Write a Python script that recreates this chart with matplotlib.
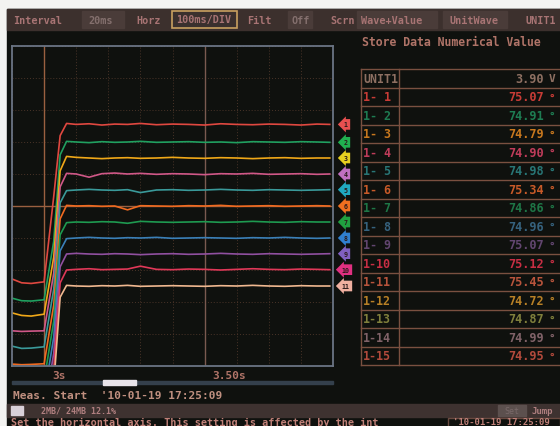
import numpy as np
import matplotlib.pyplot as plt
import matplotlib.transforms as mtransforms
from matplotlib.patches import Rectangle

# ---- data (y in screen divisions, 0..10) ----
t = [2.90, 2.93, 2.96, 3.00, 3.03, 3.05, 3.07, 3.10, 3.14, 3.18, 3.22, 3.26, 3.30,
     3.35, 3.40, 3.45, 3.50, 3.55, 3.60, 3.65, 3.70, 3.75, 3.80, 3.85, 3.89]

ch1 = [2.72, 2.60, 2.58, 2.63, 5.30, 7.20, 7.58, 7.55, 7.57, 7.53, 7.56, 7.55, 7.58,
       7.54, 7.56, 7.55, 7.53, 7.57, 7.55, 7.54, 7.56, 7.55, 7.53, 7.56, 7.55]
ch2 = [2.12, 2.04, 2.03, 2.07, 3.90, 6.60, 7.02, 7.00, 6.98, 7.01, 6.99, 7.00, 7.02,
       6.99, 7.00, 7.01, 6.99, 7.00, 6.98, 7.01, 7.00, 6.99, 7.01, 7.00, 6.99]
ch3 = [1.66, 1.58, 1.56, 1.62, 3.40, 6.10, 6.55, 6.52, 6.50, 6.48, 6.50, 6.51, 6.49,
       6.50, 6.52, 6.50, 6.49, 6.51, 6.50, 6.48, 6.50, 6.51, 6.49, 6.50, 6.50]
ch4 = [1.10, 1.08, 1.09, 1.10, 2.90, 5.60, 6.02, 6.00, 5.90, 6.01, 6.03, 6.00, 6.02,
       5.99, 6.01, 6.00, 5.98, 6.01, 6.00, 6.02, 5.99, 6.00, 6.01, 5.99, 6.00]
ch5 = [0.62, 0.55, 0.56, 0.60, 2.40, 5.10, 5.48, 5.50, 5.52, 5.50, 5.49, 5.51, 5.42,
       5.50, 5.51, 5.49, 5.50, 5.52, 5.50, 5.49, 5.51, 5.50, 5.49, 5.50, 5.51]
ch6 = [0.06, 0.04, 0.05, 0.07, 1.90, 4.60, 5.02, 5.00, 5.01, 4.99, 5.00, 4.88, 5.01,
       5.00, 4.99, 5.01, 5.00, 5.02, 4.99, 5.00, 5.01, 4.99, 5.00, 5.01, 5.00]
ch7 = [-0.45, -0.50, -0.52, -0.46, 1.40, 4.10, 4.48, 4.50, 4.49, 4.51, 4.50, 4.46, 4.52,
       4.50, 4.49, 4.50, 4.51, 4.49, 4.50, 4.52, 4.50, 4.49, 4.51, 4.50, 4.50]
ch8 = [-0.95, -1.00, -1.02, -0.96, 0.90, 3.60, 3.98, 4.00, 4.02, 4.00, 3.99, 4.01, 4.00,
       4.02, 3.99, 4.00, 4.01, 4.00, 3.99, 4.01, 4.00, 4.02, 4.00, 3.99, 4.00]
ch9 = [-1.45, -1.50, -1.52, -1.46, 0.40, 3.10, 3.50, 3.52, 3.50, 3.49, 3.51, 3.50, 3.48,
       3.50, 3.51, 3.49, 3.50, 3.52, 3.50, 3.49, 3.51, 3.50, 3.49, 3.50, 3.51]
ch10 = [-1.95, -2.00, -2.02, -1.96, -0.10, 2.60, 3.00, 3.02, 3.04, 3.01, 3.02, 3.03, 3.12,
        3.02, 3.01, 3.03, 3.02, 3.00, 3.02, 3.04, 3.02, 3.01, 3.03, 3.02, 3.01]
ch11 = [-2.45, -2.50, -2.52, -2.46, -0.60, 2.15, 2.52, 2.50, 2.49, 2.51, 2.50, 2.52, 2.49,
        2.50, 2.51, 2.50, 2.49, 2.51, 2.50, 2.52, 2.50, 2.49, 2.51, 2.50, 2.50]
channels = [ch1, ch2, ch3, ch4, ch5, ch6, ch7, ch8, ch9, ch10, ch11]

line_colors = ['#e04840', '#20a060', '#f0a818', '#d05888', '#3a9a9a', '#f06a20',
               '#1e9a50', '#3a80b8', '#9050a0', '#e03858', '#f0b890']
tag_colors = ['#e85050', '#20b050', '#e8d020', '#c070c0', '#20a8c0', '#f07020',
              '#20a040', '#3080d0', '#8060c0', '#e03080', '#f0b0a0']

x_labels = ['3s', '3.50s']
x_label_pos = [3.0, 3.5]

row_labels = ['UNIT1', '1- 1', '1- 2', '1- 3', '1- 4', '1- 5', '1- 6', '1- 7', '1- 8',
              '1- 9', '1-10', '1-11', '1-12', '1-13', '1-14', '1-15']
row_values = ['3.90', '75.07', '74.91', '74.79', '74.90', '74.98', '75.34', '74.86',
              '74.96', '75.07', '75.12', '75.45', '74.72', '74.87', '74.99', '74.95']
row_units = ['V'] + ['°'] * 15
row_colors = ['#8e7062', '#c83c36', '#1e7c52', '#c8781e', '#c03c5a', '#287676', '#c85a28',
              '#1e7646', '#36627e', '#624670', '#c82e44', '#b8543c', '#b88026', '#80803c',
              '#806268', '#b24a3c']

menu_labels = ['Interval', '20ms', 'Horz', '100ms/DIV', 'Filt', 'Off', 'Scrn',
               'Wave+Value', 'UnitWave', 'UNIT1']
menu_x = [13, 88, 136, 176, 247, 292, 330, 361, 449, 525]

W, H = 560, 427
MONO = 'DejaVu Sans Mono'
TXT = '#b07468'

fig = plt.figure(figsize=(W / 100, H / 100), dpi=100)
fig.patch.set_facecolor('#f3f3f1')

# full-screen overlay in pixel coordinates
bg = fig.add_axes([0, 0, 1, 1])
bg.set_xlim(0, W)
bg.set_ylim(H, 0)
bg.axis('off')
bg.add_patch(Rectangle((7, 10), W - 7, H - 10, color='#0f110e'))

# menu bar
bg.add_patch(Rectangle((7, 10), W - 7, 21, color='#3c302d'))
for box in [(82, 42), (288, 24), (357, 80), (443, 64)]:
    bg.add_patch(Rectangle((box[0], 12), box[1], 17, color='#4a3c39'))
bg.add_patch(Rectangle((172, 12), 65, 17, fc='#3a302e', ec='#c8a060', lw=1.2))
for lab, x in zip(menu_labels, menu_x):
    c = '#84706e' if lab in ('20ms', 'Off') else '#a87474'
    bg.text(x, 20.5, lab, color=c, fontsize=7.3, family=MONO, fontweight='bold',
            va='center', ha='left')

bg.text(362, 43, 'Store Data Numerical Value', color=TXT, fontsize=8.3,
        family=MONO, fontweight='bold', va='center')

# ---- waveform area ----
ax = fig.add_axes([12 / W, (H - 367) / H, 321 / W, 320 / H])
ax.set_facecolor('none')
ax.set_xlim(2.9, 3.9)
ax.set_ylim(0, 10)
ax.set_xticks(np.arange(2.9, 3.95, 0.1))
ax.set_yticks(np.arange(0, 11, 1))
ax.grid(True, color='#4a3428', lw=0.7, ls=(0, (1, 2)))
ax.tick_params(length=0, labelbottom=False, labelleft=False)
ax.axvline(3.0, color='#9a6040', lw=1.0)
ax.axvline(3.5, color='#7a5a50', lw=1.0)
ax.axhline(5.0, color='#9a6040', lw=1.0)
for s in ax.spines.values():
    s.set_color('#6a7484')
    s.set_linewidth(1.3)

for ys, c in zip(channels, line_colors):
    ax.plot(t, ys, color=c, lw=1.2)

# channel tags at the right edge
blend = mtransforms.blended_transform_factory(ax.transAxes, ax.transData)
for i, (ys, c) in enumerate(zip(channels, tag_colors)):
    ax.text(1.04, ys[-1], str(i + 1), transform=blend, fontsize=4.8, color='#2a1a1a',
            ha='center', va='center', family=MONO, fontweight='bold', clip_on=False,
            bbox=dict(boxstyle='larrow,pad=0.35', fc=c, ec='none'))

blend_x = mtransforms.blended_transform_factory(ax.transData, ax.transAxes)
for lab, xv in zip(x_labels, x_label_pos):
    ax.text(xv + 0.025, -0.028, lab, transform=blend_x, color=TXT, fontsize=8,
            family=MONO, fontweight='bold', va='center', ha='left', clip_on=False)

# scroll bar and start time
bg.add_patch(Rectangle((12, 382), 321, 3, color='#34404c'))
bg.add_patch(Rectangle((103, 381), 33, 5, color='#e8e4ea'))
bg.text(13, 396, "Meas. Start  '10-01-19 17:25:09", color='#c09080', fontsize=8,
        family=MONO, fontweight='bold', va='center')

# ---- numeric table ----
top, rh, left, div = 70, 18.5, 361, 399
line_c = '#7a5040'
for i in range(len(row_labels) + 1):
    y = top + i * rh
    bg.plot([left, W], [y, y], color=line_c, lw=1.0)
bottom = top + len(row_labels) * rh
bg.plot([left, left], [top, bottom], color=line_c, lw=1.0)
bg.plot([div, div], [top, bottom], color=line_c, lw=1.0)
for i, (lab, val, unit, c) in enumerate(zip(row_labels, row_values, row_units, row_colors)):
    y = top + (i + 0.5) * rh
    bg.text(363, y, lab, color=c, fontsize=8.4, family=MONO, fontweight='bold', va='center')
    bg.text(544, y, val, color=c, fontsize=8.6, family=MONO, fontweight='bold',
            va='center', ha='right')
    bg.text(549, y, unit, color=c, fontsize=8.0, family=MONO, fontweight='bold',
            va='center', ha='left')

# ---- status bar and help line ----
bg.add_patch(Rectangle((7, 405), W - 7, 13, color='#3e3230'))
bg.add_patch(Rectangle((11, 407), 12, 9, color='#d8d0d8'))
bg.text(41, 411.5, '2MB/ 24MB 12.1%', color='#b08080', fontsize=6, family=MONO,
        fontweight='bold', va='center')
bg.add_patch(Rectangle((498, 406), 28, 11, color='#5c504e'))
bg.text(512, 411.5, 'Set', color='#7a6a6a', fontsize=6, family=MONO, ha='center', va='center')
bg.text(532, 411.5, 'Jump', color='#b08080', fontsize=6.5, family=MONO,
        fontweight='bold', va='center')

bg.text(11, 422.5, 'Set the horizontal axis. This setting is affected by the int',
        color='#c08078', fontsize=7.3, family=MONO, fontweight='bold', va='center')
bg.add_patch(Rectangle((448, 419), 112, 9, fc='#0f110e', ec='#6a4a40', lw=1))
bg.text(453, 423, "'10-01-19 17:25:09", color='#c08078', fontsize=6.5, family=MONO,
        fontweight='bold', va='center')

fig.savefig('out.png', dpi=100, facecolor=fig.get_facecolor())
